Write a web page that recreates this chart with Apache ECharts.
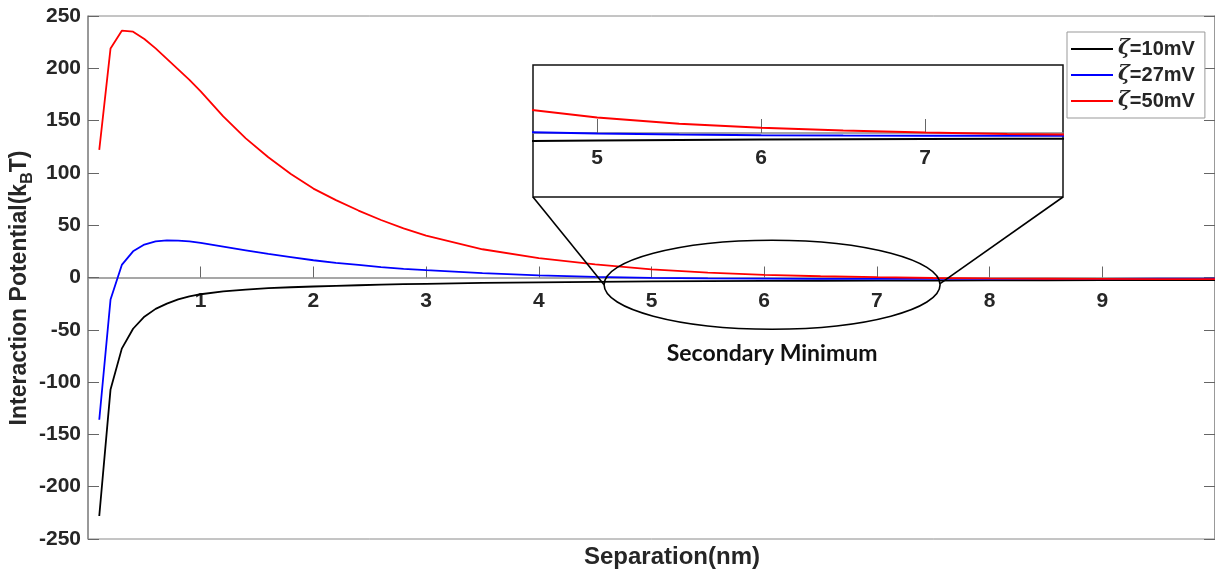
<!DOCTYPE html>
<html>
<head>
<meta charset="utf-8">
<script src="https://cdn.jsdelivr.net/npm/echarts@6/dist/echarts.min.js"></script>
<style>html,body{margin:0;padding:0;background:#fff}#c{width:1215px;height:573px}</style>
</head>
<body>
<div id="c"></div>
<script>
// ---- data ----
const separation = [0.1,0.2,0.3,0.4,0.5,0.6,0.7,0.8,0.9,1.0,1.2,1.4,1.6,1.8,2.0,2.2,2.4,2.6,2.8,3.0,3.5,4.0,4.5,5.0,5.5,6.0,6.5,7.0,7.5,8.0,8.5,9.0,9.5,10.0];
const zeta10 = [-228,-107,-68,-49,-37.5,-30,-25,-21,-18,-16,-13.3,-11.5,-10.2,-9.3,-8.6,-8,-7.4,-6.9,-6.4,-6,-5.2,-4.6,-4.1,-3.8,-3.5,-3.3,-3.1,-3,-2.9,-2.8,-2.7,-2.6,-2.5,-2.4];
const zeta27 = [-136,-21,12,25,31.5,34.5,35.5,35.3,34.5,33,29.5,26,22.5,19.5,16.5,14,12,10,8.3,7,4.2,2,0.6,-0.3,-0.8,-1.1,-1.3,-1.4,-1.4,-1.4,-1.3,-1.3,-1.2,-1.2];
const zeta50 = [122,219,236,235,228,219,209,199,189,178,154,133,115,99,85,74,64,55,47,40,27,18.5,12.5,7.8,4.6,2.6,1.2,0.3,-0.5,-0.9,-1.2,-1.4,-1.5,-1.5];
const seriesNames = ['ζ=10mV','ζ=27mV','ζ=50mV'];
const seriesColors = ['#000000','#0000ff','#ff0000'];
const xTickLabels = ['1','2','3','4','5','6','7','8','9'];
const insetTickLabels = ['5','6','7'];

// ---- layout ----
const F = '"Liberation Sans", Arial, sans-serif';
const gray = '#8a8a8a';
const txt = '#262626';
const inset = {left:533, top:65, width:530, height:132};
const mainGrid = {left:88, top:16, right:-6, bottom:34};

const chart = echarts.init(document.getElementById('c'));
const allSeries = [zeta10, zeta27, zeta50];
const toPairs = arr => separation.map((x,i)=>[x, arr[i]]);

const series = [];
allSeries.forEach((arr,k)=>{
  series.push({name:seriesNames[k], type:'line', xAxisIndex:0, yAxisIndex:0, data:toPairs(arr),
    symbol:'none', showSymbol:false, smooth:false, lineStyle:{color:seriesColors[k], width:1.8}, itemStyle:{color:seriesColors[k]}, z:3});
});
allSeries.forEach((arr,k)=>{
  series.push({name:seriesNames[k], type:'line', xAxisIndex:1, yAxisIndex:2, data:toPairs(arr),
    symbol:'none', showSymbol:false, smooth:false, clip:true, lineStyle:{color:seriesColors[k], width:2}, itemStyle:{color:seriesColors[k]}, z:6});
});

const labelStyle = {fontFamily:F, fontWeight:'bold', fontSize:21, color:txt};

chart.setOption({
  animation:false,
  backgroundColor:'#fff',
  grid:[
    Object.assign({show:true, borderColor:gray, borderWidth:1, backgroundColor:'transparent'}, mainGrid),
    {left:inset.left, top:inset.top, width:inset.width, height:inset.height, show:true, borderColor:'#111', borderWidth:1.5, backgroundColor:'#fff', z:5}
  ],
  xAxis:[
    {gridIndex:0, type:'value', min:0, max:10, interval:1,
     axisLine:{onZero:false, lineStyle:{color:gray, width:1.5}},
     axisTick:{inside:true, length:11, lineStyle:{color:'#666'}},
     axisLabel:Object.assign({margin:13, showMinLabel:false, showMaxLabel:false,
        formatter: v => xTickLabels.indexOf(String(v)) >= 0 ? String(v) : ''}, labelStyle),
     splitLine:{show:false}},
    {gridIndex:1, type:'value', min:4.609, max:7.84, splitNumber:3,
     axisLine:{onZero:false, lineStyle:{color:gray, width:1.5}},
     axisTick:{inside:true, length:14, lineStyle:{color:'#666'}},
     axisLabel:Object.assign({margin:15, showMinLabel:false, showMaxLabel:false,
        formatter: v => insetTickLabels.indexOf(String(v)) >= 0 ? String(v) : ''}, labelStyle),
     splitLine:{show:false}, z:6}
  ],
  yAxis:[
    {gridIndex:0, type:'value', min:-250, max:250, interval:50,
     axisLine:{show:true, onZero:false, lineStyle:{color:gray, width:1.5}},
     axisTick:{show:true, inside:true, length:11, lineStyle:{color:'#666'}},
     axisLabel:Object.assign({margin:7}, labelStyle),
     splitLine:{show:false}},
    {gridIndex:0, type:'value', position:'right', min:-250, max:250, interval:50,
     axisLine:{show:true, onZero:false, lineStyle:{color:gray, width:1.5}},
     axisTick:{show:true, inside:true, length:11, lineStyle:{color:'#666'}},
     axisLabel:{show:false}, splitLine:{show:false}},
    {gridIndex:1, type:'value', min:-32, max:34, show:false}
  ],
  legend:{
    data:seriesNames, orient:'vertical', left:1067, top:32,
    padding:[6,10,6,4], itemWidth:42, itemHeight:2, itemGap:4, icon:'rect',
    backgroundColor:'#fff', borderColor:'#999', borderWidth:1,
    formatter: n => '{g|ζ}{t|' + n.slice(1) + '}',
    textStyle:{fontFamily:F, fontWeight:'bold', fontSize:20, color:txt, lineHeight:22,
      rich:{
        g:{fontFamily:'"DejaVu Serif", serif', fontStyle:'italic', fontWeight:'bold', fontSize:20, color:txt, lineHeight:22},
        t:{fontFamily:F, fontWeight:'bold', fontSize:20, color:txt, lineHeight:22}
      }},
    z:10
  },
  series:series
});

// move x axes onto the y = 0 line of their grids
const zeroMain = chart.convertToPixel({yAxisIndex:0}, 0);
const zeroInset = chart.convertToPixel({yAxisIndex:2}, 0);
const mainBottom = 573 - mainGrid.bottom;
const insetBottom = inset.top + inset.height;
chart.setOption({xAxis:[{offset: zeroMain - mainBottom}, {offset: zeroInset - insetBottom}]});

// ---- annotations: ellipse, connector lines, labels ----
const c = chart.convertToPixel({xAxisIndex:0, yAxisIndex:0}, [6.07, -6.9]);
const rx = 168, ry = 44.5;
chart.setOption({
  graphic:[
    {type:'ellipse', shape:{cx:c[0], cy:c[1], rx:rx, ry:ry}, style:{fill:'none', stroke:'#000', lineWidth:1.6}, z:20},
    {type:'line', shape:{x1:inset.left, y1:insetBottom, x2:c[0]-rx, y2:c[1]}, style:{stroke:'#000', lineWidth:1.6}, z:20},
    {type:'line', shape:{x1:inset.left+inset.width, y1:insetBottom, x2:c[0]+rx, y2:c[1]-1}, style:{stroke:'#000', lineWidth:1.6}, z:20},
    {type:'text', x:c[0], y:354, style:{text:'Secondary Minimum', fontFamily:'Lato, "Open Sans", sans-serif', fontWeight:'bold', fontSize:23, fill:'#111', align:'center', verticalAlign:'middle'}, z:20},
    {type:'text', x:672, y:557, style:{text:'Separation(nm)', fontFamily:F, fontWeight:'bold', fontSize:24, fill:txt, align:'center', verticalAlign:'middle'}, z:20},
    {type:'text', x:20, y:288, rotation:Math.PI/2,
     style:{text:'{n|Interaction Potential(k}{s|B}{n|T)}', align:'center', verticalAlign:'middle', fill:txt,
       rich:{
         n:{fontFamily:F, fontWeight:'bold', fontSize:23, fill:txt, lineHeight:32, verticalAlign:'middle'},
         s:{fontFamily:F, fontWeight:'bold', fontSize:16, fill:txt, lineHeight:32, verticalAlign:'bottom'}
       }}, z:20}
  ]
});
</script>
</body>
</html>
